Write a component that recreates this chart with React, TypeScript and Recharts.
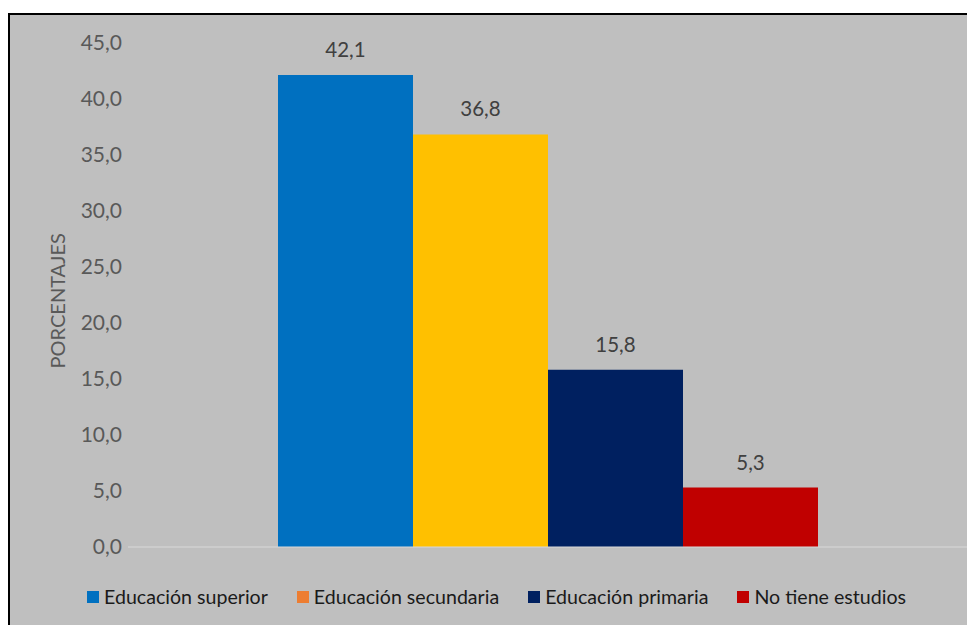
import React from 'react';
import { BarChart, Bar, XAxis, YAxis, Legend, LabelList } from 'recharts';

const categories = [''];
const seriesNames = ['Educación superior', 'Educación secundaria', 'Educación primaria', 'No tiene estudios'];
const seriesKeys = ['superior', 'secundaria', 'primaria', 'sinEstudios'];
const seriesValues = [42.1, 36.8, 15.8, 5.3];
const yTicks = [0, 5, 10, 15, 20, 25, 30, 35, 40, 45];

const barColors = ['#0070C0', '#FFC000', '#002060', '#C00000'];
const legendColors = ['#0070C0', '#ED7D31', '#002060', '#C00000'];

const data = categories.map((name) => {
  const row: Record<string, string | number> = { name };
  seriesKeys.forEach((k, i) => {
    row[k] = seriesValues[i];
  });
  return row;
});

const FONT = 'Lato, "Open Sans", sans-serif';
const fmt = (v: any) => Number(v).toFixed(1).replace('.', ',');

const LegendContent = () => (
  <div style={{ display: 'flex', alignItems: 'center', height: 24, fontFamily: FONT, fontSize: 19.6, color: '#1a1a1a', whiteSpace: 'nowrap' }}>
    {seriesNames.map((n, i) => (
      <div key={n} style={{ display: 'flex', alignItems: 'center', marginRight: i < seriesNames.length - 1 ? 29 : 0 }}>
        <span style={{ display: 'inline-block', width: 12, height: 12, background: legendColors[i], marginRight: 5 }} />
        <span>{n}</span>
      </div>
    ))}
  </div>
);

const YLabel = (props: any) => {
  const vb = props.viewBox || { x: 0, y: 0, width: 0, height: 0 };
  const cx = 47;
  const cy = vb.y + vb.height / 2 + 6;
  return (
    <text
      x={cx}
      y={cy}
      transform={`rotate(-90, ${cx}, ${cy})`}
      textAnchor="middle"
      dominantBaseline="central"
      fill="#595959"
      fontSize={20}
      fontFamily={FONT}
    >
      PORCENTAJES
    </text>
  );
};

export default function App() {
  return (
    <div
      style={{
        position: 'fixed',
        left: 8,
        top: 13,
        width: 959,
        height: 612,
        boxSizing: 'border-box',
        borderTop: '2px solid #000',
        borderLeft: '2px solid #000',
        background: '#BFBFBF',
        overflow: 'hidden',
      }}
    >
      <BarChart
        width={957}
        height={610}
        data={data}
        margin={{ top: 27.5, right: 0, left: 0, bottom: 53 }}
        barGap={0}
        barCategoryGap={150}
      >
        <XAxis dataKey="name" tick={false} tickLine={false} axisLine={{ stroke: '#D9D9D9', strokeWidth: 1 }} height={1} />
        <YAxis
          type="number"
          domain={[0, 45]}
          ticks={yTicks}
          interval={0}
          tickFormatter={fmt}
          axisLine={false}
          tickLine={false}
          tickSize={0}
          tickMargin={6}
          width={118}
          tick={{ fill: '#595959', fontSize: 21, fontFamily: FONT }}
          label={<YLabel />}
        />
        <Legend
          verticalAlign="bottom"
          content={<LegendContent />}
          wrapperStyle={{ left: 77, top: 569.5, bottom: 'auto', width: 'auto' }}
        />
        {seriesKeys.map((k, i) => (
          <Bar key={k} dataKey={k} name={seriesNames[i]} fill={barColors[i]} isAnimationActive={false}>
            <LabelList dataKey={k} position="top" offset={18} formatter={fmt} fill="#404040" fontSize={20.5} fontFamily={FONT} />
          </Bar>
        ))}
      </BarChart>
    </div>
  );
}
